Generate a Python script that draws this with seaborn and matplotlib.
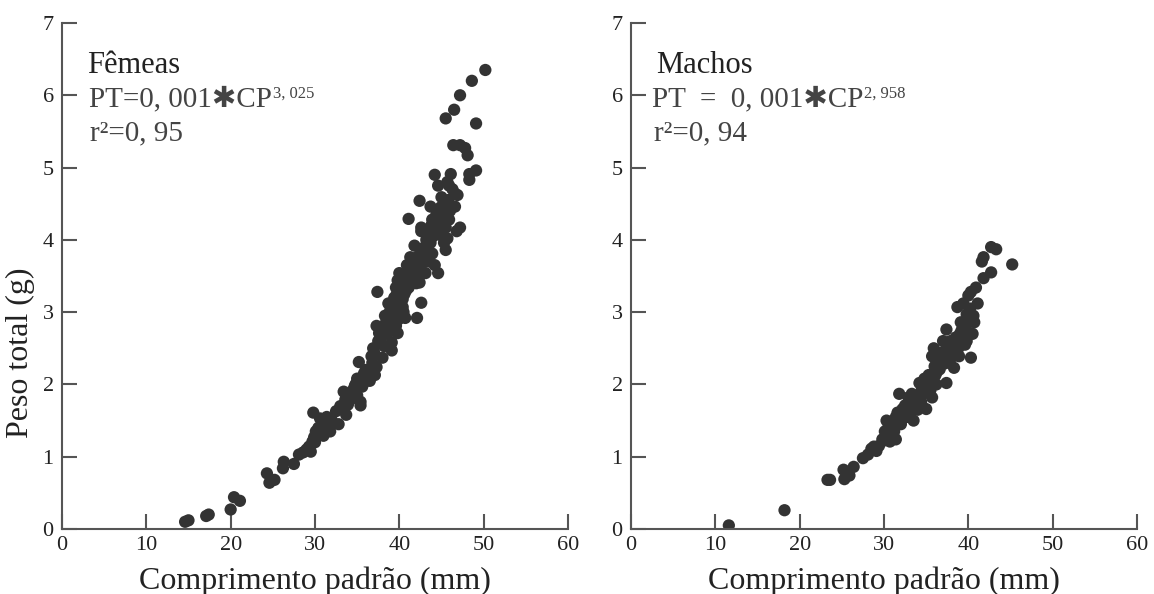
import matplotlib
matplotlib.use("Agg")
import matplotlib.pyplot as plt
import matplotlib.transforms as mtransforms
import pandas as pd
import seaborn as sns

# Fêmeas: standard length (mm) and total weight (g)
femeas_cp = [14.6, 15.0, 17.1, 17.4, 20.0, 20.4, 21.1, 24.3, 24.6, 25.2,
             26.3, 26.2, 27.5, 28.1, 28.6, 29.3, 29.5, 29.7, 29.9, 29.8,
             30.1, 30.4, 30.8, 31.0, 30.6, 31.4, 31.8, 32.5, 32.8, 33.4,
             33.6, 33.7, 34.1, 34.5, 34.7, 35.0, 35.2, 35.4, 35.4, 35.6,
             36.1, 36.3, 36.5, 36.7, 36.9, 37.1, 37.3, 37.4, 37.3, 37.6,
             37.8, 38.0, 38.2, 38.5, 38.7, 38.9, 39.1, 39.1, 38.7, 39.3,
             39.6, 39.8, 39.6, 39.8, 40.0, 40.2, 40.4, 40.0, 40.4, 40.7,
             40.9, 41.1, 41.3, 41.5, 41.8, 41.8, 41.1, 42.2, 42.4, 42.6,
             42.1, 42.4, 42.6, 42.6, 42.9, 43.1, 43.3, 43.5, 43.7, 43.9,
             44.2, 43.7, 43.9, 44.2, 44.6, 44.4, 44.6, 44.8, 44.6, 45.0,
             45.3, 45.3, 45.5, 45.5, 45.7, 45.9, 45.5, 45.7, 45.9, 46.1,
             46.6, 46.6, 46.4, 46.5, 46.8, 47.2, 47.2, 47.2, 47.8, 48.1,
             48.3, 48.3, 48.6, 49.1, 49.1, 50.2,
             39.0, 39.4, 40.1, 40.6, 40.8, 41.0, 41.2, 41.4, 41.6, 42.0,
             42.3, 42.5, 42.8, 43.0, 43.2, 43.6, 44.0, 44.4, 44.9, 45.2,
             38.0, 38.3, 39.9, 40.5, 36.0, 36.8, 34.8, 35.0, 33.9, 32.0,
             31.2, 30.0, 29.0, 45.8, 46.3, 46.9,
             38.4, 38.8, 39.2, 39.5, 39.7, 40.3, 40.6, 41.2, 41.7, 42.0,
             42.7, 43.0, 43.4, 43.8, 44.3, 44.7, 45.1, 45.6, 46.0, 36.4,
             37.0, 37.5, 34.3, 33.0, 31.6, 30.3, 35.8, 38.6]
femeas_pt = [0.10, 0.12, 0.18, 0.20, 0.27, 0.44, 0.39, 0.77, 0.64, 0.68,
             0.93, 0.84, 0.90, 1.03, 1.06, 1.14, 1.07, 1.21, 1.27, 1.61,
             1.35, 1.40, 1.40, 1.29, 1.53, 1.55, 1.35, 1.63, 1.45, 1.90,
             1.79, 1.58, 1.82, 1.92, 1.97, 2.08, 2.31, 1.76, 1.71, 1.97,
             2.05, 2.18, 2.05, 2.39, 2.50, 2.13, 2.24, 3.28, 2.81, 2.71,
             2.63, 2.37, 2.53, 2.76, 2.91, 3.01, 2.58, 2.47, 3.12, 3.07,
             2.81, 2.71, 3.34, 3.44, 3.54, 3.28, 3.18, 2.97, 3.07, 2.92,
             3.65, 3.34, 3.76, 3.50, 3.92, 3.71, 4.29, 3.65, 3.41, 3.13,
             2.92, 4.54, 4.17, 4.12, 3.70, 3.54, 3.86, 3.70, 3.96, 3.81,
             3.65, 4.46, 4.28, 4.90, 3.54, 4.12, 4.23, 4.07, 4.75, 4.59,
             4.43, 3.96, 3.86, 4.17, 4.02, 4.28, 5.68, 4.80, 4.75, 4.91,
             4.64, 4.46, 5.31, 5.80, 4.12, 4.17, 6.00, 5.31, 5.27, 5.17,
             4.91, 4.83, 6.20, 5.61, 4.96, 6.35,
             3.05, 3.20, 3.35, 3.45, 3.30, 3.55, 3.45, 3.62, 3.58, 3.50,
             3.78, 3.60, 3.82, 3.75, 4.00, 4.10, 4.05, 4.35, 4.45, 4.20,
             2.80, 2.95, 2.90, 3.00, 2.20, 2.30, 2.00, 1.85, 1.72, 1.50,
             1.45, 1.20, 1.10, 4.55, 4.70, 4.62,
             2.85, 2.98, 3.10, 3.15, 3.25, 3.40, 3.25, 3.65, 3.68, 3.40,
             3.70, 3.90, 3.90, 4.20, 4.15, 4.30, 4.35, 4.50, 4.40, 2.10,
             2.45, 2.60, 1.80, 1.70, 1.48, 1.30, 2.15, 2.70]

# Machos: standard length (mm) and total weight (g)
machos_cp = [11.6, 18.2, 23.3, 23.6, 25.2, 25.3, 25.9, 26.4, 27.5, 28.1,
             28.5, 29.1, 28.8, 29.8, 30.1, 30.3, 30.5, 30.7, 30.9, 31.1,
             31.4, 31.4, 31.6, 31.8, 32.0, 32.2, 32.5, 32.7, 32.9, 33.1,
             33.3, 33.5, 33.8, 34.0, 34.2, 34.4, 34.6, 34.8, 35.0, 35.3,
             35.5, 35.7, 35.7, 35.9, 36.1, 36.4, 36.6, 36.8, 37.0, 37.2,
             37.4, 37.4, 37.7, 37.9, 38.1, 38.3, 38.5, 38.7, 38.9, 39.1,
             39.4, 39.6, 39.4, 39.8, 40.0, 40.3, 40.5, 40.7, 40.3, 40.9,
             41.1, 41.6, 41.8, 41.8, 42.7, 42.7, 43.3, 45.2,
             32.0, 32.5, 33.0, 33.6, 34.2, 34.5, 35.0, 35.5, 36.0, 36.5,
             37.0, 37.5, 38.0, 38.6, 39.0, 39.5, 40.0, 40.2, 30.8, 31.2,
             31.7, 33.0, 34.0, 36.2, 37.8, 38.8, 39.8,
             30.4, 31.0, 31.9, 32.3, 32.8, 33.4, 33.9, 34.7, 35.2, 35.8,
             36.3, 36.9, 37.3, 37.6, 38.2, 38.4, 39.2, 39.7, 40.1, 40.6,
             29.4, 29.9, 33.2, 34.9, 36.7]
machos_pt = [0.05, 0.26, 0.68, 0.68, 0.82, 0.69, 0.74, 0.86, 0.98, 1.03,
             1.11, 1.08, 1.14, 1.24, 1.35, 1.50, 1.29, 1.21, 1.40, 1.45,
             1.24, 1.55, 1.61, 1.87, 1.45, 1.66, 1.71, 1.55, 1.82, 1.76,
             1.87, 1.50, 1.69, 1.85, 2.02, 1.76, 1.87, 2.08, 1.66, 2.13,
             1.92, 1.82, 2.39, 2.50, 2.13, 2.29, 2.21, 2.44, 2.60, 2.29,
             2.02, 2.76, 2.39, 2.60, 2.50, 2.23, 2.65, 3.07, 2.39, 2.86,
             2.70, 2.55, 3.12, 2.97, 3.23, 2.37, 2.70, 2.86, 3.28, 3.34,
             3.12, 3.70, 3.76, 3.47, 3.55, 3.90, 3.87, 3.66,
             1.60, 1.62, 1.70, 1.78, 1.80, 1.95, 2.00, 2.10, 2.25, 2.35,
             2.40, 2.50, 2.45, 2.60, 2.70, 2.85, 2.95, 3.05, 1.30, 1.35,
             1.50, 1.60, 1.65, 2.00, 2.30, 2.50, 2.60,
             1.38, 1.42, 1.52, 1.58, 1.66, 1.72, 1.80, 1.92, 2.02, 2.05,
             2.18, 2.32, 2.45, 2.35, 2.55, 2.40, 2.75, 2.80, 2.88, 2.95,
             1.15, 1.22, 1.78, 1.98, 2.38]

panel_titles = ["Fêmeas", "Machos"]
equation_bases = ["PT=0, 001\u2731CP", "PT  =  0, 001\u2731CP"]
equation_exponents = ["3, 025", "2, 958"]
r2_labels = ["r\u00b2=0, 95", "r\u00b2=0, 94"]
x_ticks = [0, 10, 20, 30, 40, 50, 60]
y_ticks = [0, 1, 2, 3, 4, 5, 6, 7]

sns.set_style("ticks")
plt.rcParams["font.family"] = ["Liberation Serif", "DejaVu Sans"]

INK = "#333333"
AXIS = "#555555"
TEXT = "#222222"

fig = plt.figure(figsize=(11.54, 5.94), dpi=100)
ax_f = fig.add_axes([0.0537, 0.1094, 0.4385, 0.8519])
ax_m = fig.add_axes([0.5468, 0.1094, 0.4385, 0.8519])

frames = [pd.DataFrame({"cp": femeas_cp, "pt": femeas_pt}),
          pd.DataFrame({"cp": machos_cp, "pt": machos_pt})]

for ax, df in zip([ax_f, ax_m], frames):
    sns.scatterplot(data=df, x="cp", y="pt", ax=ax, color=INK, s=78,
                    edgecolor="none", linewidth=0, legend=False)
    ax.set_xlim(0, 60)
    ax.set_ylim(0, 7)
    ax.set_xticks(x_ticks)
    ax.set_yticks(y_ticks)
    sns.despine(ax=ax)
    for side in ["left", "bottom"]:
        ax.spines[side].set_linewidth(1.5)
        ax.spines[side].set_color(AXIS)
    ax.tick_params(direction="in", length=10.5, width=1.5, color=AXIS,
                   labelsize=16, labelcolor=TEXT)
    ax.tick_params(axis="y", pad=6)
    ax.tick_params(axis="x", pad=5)
    ax.set_xlabel("Comprimento padrão (mm)", fontsize=23, color=TEXT,
                  labelpad=8)
    ax.set_ylabel("")

ax_f.set_ylabel("Peso total (g)", fontsize=23, color=TEXT)
ax_f.yaxis.set_label_coords(-0.053, 0.348)

# panel annotations
title_x = [3.0, 3.0]
eq_x = [3.2, 2.5]
r2_x = [3.3, 2.7]
eq_texts = []
for i, ax in enumerate([ax_f, ax_m]):
    ax.text(title_x[i], 6.31, panel_titles[i], fontsize=22, color=TEXT,
            va="baseline", ha="left")
    t = ax.text(eq_x[i], 5.84, equation_bases[i], fontsize=21,
                color="#444444", va="baseline", ha="left")
    eq_texts.append((ax, t, i))
    ax.text(r2_x[i], 5.38, r2_labels[i], fontsize=21, color="#444444",
            va="baseline", ha="left")

fig.canvas.draw()
renderer = fig.canvas.get_renderer()
for ax, t, i in eq_texts:
    bb = t.get_window_extent(renderer)
    x0, _ = ax.transData.transform((eq_x[i], 5.84))
    tr = mtransforms.offset_copy(ax.transData, fig=fig,
                                 x=bb.x1 - x0 + 1, y=9, units="dots")
    ax.text(eq_x[i], 5.84, equation_exponents[i], fontsize=12,
            color="#444444", va="baseline", ha="left", transform=tr)

fig.savefig("out.png", dpi=100)
